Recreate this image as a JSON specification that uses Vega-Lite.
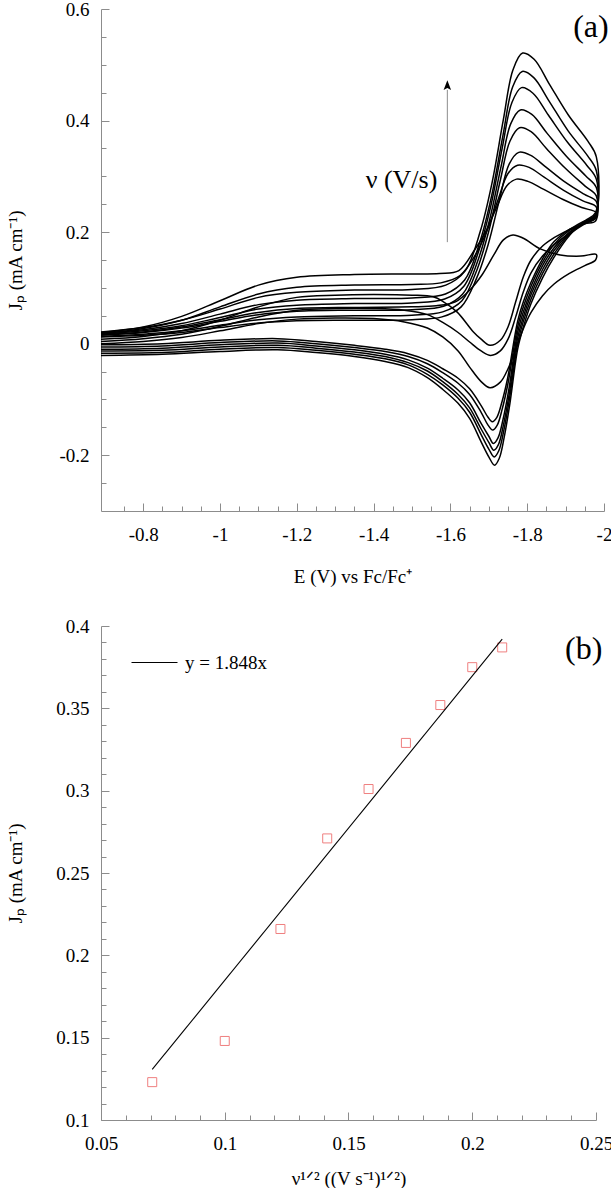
{
"$schema": "https://vega.github.io/schema/vega-lite/v6.json",
"padding": {"left": 6, "top": 0, "right": 5, "bottom": 0},
"spacing": 31,
"config": {
 "view": {"stroke": null},
 "font": "Liberation Serif",
 "axis": {"domainColor": "#8c8c8c", "tickColor": "#8c8c8c", "labelFont": "Times New Roman, Liberation Serif, serif", "labelFontSize": 19, "labelColor": "black", "titleFont": "Times New Roman, Liberation Serif, serif", "titleFontSize": 19, "titleFontWeight": "normal", "titleColor": "black", "grid": false, "domainWidth": 1, "tickWidth": 1, "labelFlush": false, "labelOverlap": false}
},
"datasets": {
 "cv": [
{"c":1,"E":-0.69,"J":0.020},{"c":1,"E":-0.80,"J":0.030},{"c":1,"E":-0.90,"J":0.049},{"c":1,"E":-1.00,"J":0.077},{"c":1,"E":-1.10,"J":0.105},{"c":1,"E":-1.20,"J":0.119},{"c":1,"E":-1.35,"J":0.124},{"c":1,"E":-1.50,"J":0.125},{"c":1,"E":-1.572,"J":0.126},{"c":1,"E":-1.622,"J":0.131},{"c":1,"E":-1.662,"J":0.167},{"c":1,"E":-1.692,"J":0.201},{"c":1,"E":-1.722,"J":0.247},{"c":1,"E":-1.747,"J":0.283},{"c":1,"E":-1.772,"J":0.295},{"c":1,"E":-1.802,"J":0.291},{"c":1,"E":-1.842,"J":0.277},{"c":1,"E":-1.892,"J":0.259},{"c":1,"E":-1.942,"J":0.244},{"c":1,"E":-1.98,"J":0.235},
{"c":1,"E":-1.978,"J":0.225},{"c":1,"E":-1.95,"J":0.220},{"c":1,"E":-1.91,"J":0.205},{"c":1,"E":-1.87,"J":0.190},{"c":1,"E":-1.84,"J":0.175},{"c":1,"E":-1.81,"J":0.150},{"c":1,"E":-1.79,"J":0.120},{"c":1,"E":-1.77,"J":0.075},{"c":1,"E":-1.75,"J":0.030},{"c":1,"E":-1.73,"J":0.006},{"c":1,"E":-1.703,"J":-0.003},{"c":1,"E":-1.68,"J":0.008},{"c":1,"E":-1.66,"J":0.021},{"c":1,"E":-1.617,"J":0.057},{"c":1,"E":-1.58,"J":0.076},{"c":1,"E":-1.555,"J":0.084},{"c":1,"E":-1.50,"J":0.087},{"c":1,"E":-1.40,"J":0.088},{"c":1,"E":-1.30,"J":0.087},{"c":1,"E":-1.20,"J":0.083},{"c":1,"E":-1.10,"J":0.066},{"c":1,"E":-1.00,"J":0.042},{"c":1,"E":-0.90,"J":0.023},{"c":1,"E":-0.80,"J":0.013},{"c":1,"E":-0.69,"J":0.008},
{"c":2,"E":-0.69,"J":0.018},{"c":2,"E":-0.80,"J":0.027},{"c":2,"E":-0.90,"J":0.042},{"c":2,"E":-1.00,"J":0.066},{"c":2,"E":-1.10,"J":0.089},{"c":2,"E":-1.20,"J":0.101},{"c":2,"E":-1.35,"J":0.105},{"c":2,"E":-1.50,"J":0.106},{"c":2,"E":-1.575,"J":0.109},{"c":2,"E":-1.625,"J":0.122},{"c":2,"E":-1.665,"J":0.159},{"c":2,"E":-1.695,"J":0.202},{"c":2,"E":-1.725,"J":0.260},{"c":2,"E":-1.75,"J":0.305},{"c":2,"E":-1.775,"J":0.320},{"c":2,"E":-1.805,"J":0.316},{"c":2,"E":-1.845,"J":0.298},{"c":2,"E":-1.895,"J":0.275},{"c":2,"E":-1.945,"J":0.256},{"c":2,"E":-1.98,"J":0.245},
{"c":2,"E":-1.978,"J":0.225},{"c":2,"E":-1.95,"J":0.215},{"c":2,"E":-1.91,"J":0.197},{"c":2,"E":-1.87,"J":0.177},{"c":2,"E":-1.84,"J":0.157},{"c":2,"E":-1.81,"J":0.127},{"c":2,"E":-1.79,"J":0.093},{"c":2,"E":-1.77,"J":0.048},{"c":2,"E":-1.75,"J":0.008},{"c":2,"E":-1.73,"J":-0.013},{"c":2,"E":-1.705,"J":-0.021},{"c":2,"E":-1.68,"J":-0.013},{"c":2,"E":-1.65,"J":0.003},{"c":2,"E":-1.62,"J":0.020},{"c":2,"E":-1.58,"J":0.038},{"c":2,"E":-1.54,"J":0.052},{"c":2,"E":-1.48,"J":0.060},{"c":2,"E":-1.40,"J":0.063},{"c":2,"E":-1.30,"J":0.063},{"c":2,"E":-1.20,"J":0.060},{"c":2,"E":-1.10,"J":0.048},{"c":2,"E":-1.00,"J":0.031},{"c":2,"E":-0.90,"J":0.017},{"c":2,"E":-0.80,"J":0.009},{"c":2,"E":-0.69,"J":0.004},
{"c":3,"E":-0.69,"J":0.016},{"c":3,"E":-0.80,"J":0.021},{"c":3,"E":-0.90,"J":0.030},{"c":3,"E":-1.00,"J":0.043},{"c":3,"E":-1.10,"J":0.056},{"c":3,"E":-1.20,"J":0.063},{"c":3,"E":-1.35,"J":0.065},{"c":3,"E":-1.50,"J":0.066},{"c":3,"E":-1.563,"J":0.068},{"c":3,"E":-1.613,"J":0.075},{"c":3,"E":-1.653,"J":0.098},{"c":3,"E":-1.683,"J":0.124},{"c":3,"E":-1.713,"J":0.159},{"c":3,"E":-1.738,"J":0.186},{"c":3,"E":-1.763,"J":0.195},{"c":3,"E":-1.79,"J":0.189},{"c":3,"E":-1.834,"J":0.170},{"c":3,"E":-1.886,"J":0.159},{"c":3,"E":-1.94,"J":0.157},{"c":3,"E":-1.98,"J":0.160},
{"c":3,"E":-1.978,"J":0.150},{"c":3,"E":-1.95,"J":0.140},{"c":3,"E":-1.91,"J":0.126},{"c":3,"E":-1.87,"J":0.107},{"c":3,"E":-1.84,"J":0.086},{"c":3,"E":-1.81,"J":0.056},{"c":3,"E":-1.79,"J":0.027},{"c":3,"E":-1.77,"J":-0.010},{"c":3,"E":-1.75,"J":-0.045},{"c":3,"E":-1.73,"J":-0.069},{"c":3,"E":-1.703,"J":-0.079},{"c":3,"E":-1.68,"J":-0.068},{"c":3,"E":-1.65,"J":-0.042},{"c":3,"E":-1.62,"J":-0.013},{"c":3,"E":-1.58,"J":0.012},{"c":3,"E":-1.54,"J":0.028},{"c":3,"E":-1.48,"J":0.039},{"c":3,"E":-1.40,"J":0.045},{"c":3,"E":-1.30,"J":0.046},{"c":3,"E":-1.20,"J":0.044},{"c":3,"E":-1.10,"J":0.036},{"c":3,"E":-1.00,"J":0.023},{"c":3,"E":-0.90,"J":0.011},{"c":3,"E":-0.80,"J":0.004},{"c":3,"E":-0.69,"J":0.000},
{"c":4,"E":-0.69,"J":0.012},{"c":4,"E":-0.80,"J":0.015},{"c":4,"E":-0.90,"J":0.020},{"c":4,"E":-1.00,"J":0.029},{"c":4,"E":-1.10,"J":0.037},{"c":4,"E":-1.20,"J":0.041},{"c":4,"E":-1.35,"J":0.042},{"c":4,"E":-1.50,"J":0.043},{"c":4,"E":-1.578,"J":0.048},{"c":4,"E":-1.628,"J":0.066},{"c":4,"E":-1.668,"J":0.117},{"c":4,"E":-1.698,"J":0.177},{"c":4,"E":-1.728,"J":0.259},{"c":4,"E":-1.753,"J":0.322},{"c":4,"E":-1.778,"J":0.343},{"c":4,"E":-1.808,"J":0.338},{"c":4,"E":-1.848,"J":0.317},{"c":4,"E":-1.898,"J":0.290},{"c":4,"E":-1.948,"J":0.268},{"c":4,"E":-1.98,"J":0.255},
{"c":4,"E":-1.978,"J":0.220},{"c":4,"E":-1.95,"J":0.215},{"c":4,"E":-1.91,"J":0.205},{"c":4,"E":-1.87,"J":0.183},{"c":4,"E":-1.84,"J":0.152},{"c":4,"E":-1.81,"J":0.110},{"c":4,"E":-1.79,"J":0.075},{"c":4,"E":-1.775,"J":0.040},{"c":4,"E":-1.749,"J":-0.062},{"c":4,"E":-1.734,"J":-0.105},{"c":4,"E":-1.721,"J":-0.132},{"c":4,"E":-1.709,"J":-0.140},{"c":4,"E":-1.698,"J":-0.132},{"c":4,"E":-1.68,"J":-0.111},{"c":4,"E":-1.65,"J":-0.081},{"c":4,"E":-1.62,"J":-0.062},{"c":4,"E":-1.58,"J":-0.045},{"c":4,"E":-1.54,"J":-0.030},{"c":4,"E":-1.49,"J":-0.018},{"c":4,"E":-1.43,"J":-0.010},{"c":4,"E":-1.35,"J":-0.003},{"c":4,"E":-1.25,"J":0.004},{"c":4,"E":-1.15,"J":0.009},{"c":4,"E":-1.00,"J":0.006},{"c":4,"E":-0.85,"J":0.000},{"c":4,"E":-0.69,"J":-0.002},
{"c":5,"E":-0.69,"J":0.013},{"c":5,"E":-0.80,"J":0.017},{"c":5,"E":-0.90,"J":0.023},{"c":5,"E":-1.00,"J":0.033},{"c":5,"E":-1.10,"J":0.043},{"c":5,"E":-1.20,"J":0.048},{"c":5,"E":-1.35,"J":0.050},{"c":5,"E":-1.50,"J":0.051},{"c":5,"E":-1.58,"J":0.057},{"c":5,"E":-1.63,"J":0.077},{"c":5,"E":-1.67,"J":0.134},{"c":5,"E":-1.70,"J":0.202},{"c":5,"E":-1.73,"J":0.293},{"c":5,"E":-1.755,"J":0.363},{"c":5,"E":-1.78,"J":0.387},{"c":5,"E":-1.81,"J":0.380},{"c":5,"E":-1.85,"J":0.350},{"c":5,"E":-1.90,"J":0.314},{"c":5,"E":-1.95,"J":0.283},{"c":5,"E":-1.98,"J":0.265},
{"c":5,"E":-1.978,"J":0.225},{"c":5,"E":-1.95,"J":0.216},{"c":5,"E":-1.91,"J":0.203},{"c":5,"E":-1.87,"J":0.178},{"c":5,"E":-1.84,"J":0.146},{"c":5,"E":-1.81,"J":0.103},{"c":5,"E":-1.79,"J":0.066},{"c":5,"E":-1.775,"J":0.030},{"c":5,"E":-1.75,"J":-0.071},{"c":5,"E":-1.735,"J":-0.117},{"c":5,"E":-1.722,"J":-0.146},{"c":5,"E":-1.71,"J":-0.155},{"c":5,"E":-1.698,"J":-0.146},{"c":5,"E":-1.68,"J":-0.123},{"c":5,"E":-1.65,"J":-0.091},{"c":5,"E":-1.62,"J":-0.071},{"c":5,"E":-1.58,"J":-0.052},{"c":5,"E":-1.54,"J":-0.036},{"c":5,"E":-1.49,"J":-0.023},{"c":5,"E":-1.43,"J":-0.014},{"c":5,"E":-1.35,"J":-0.007},{"c":5,"E":-1.25,"J":0.000},{"c":5,"E":-1.15,"J":0.005},{"c":5,"E":-1.00,"J":0.002},{"c":5,"E":-0.85,"J":-0.004},{"c":5,"E":-0.69,"J":-0.006},
{"c":6,"E":-0.69,"J":0.015},{"c":6,"E":-0.80,"J":0.020},{"c":6,"E":-0.90,"J":0.028},{"c":6,"E":-1.00,"J":0.040},{"c":6,"E":-1.10,"J":0.052},{"c":6,"E":-1.20,"J":0.058},{"c":6,"E":-1.35,"J":0.060},{"c":6,"E":-1.50,"J":0.061},{"c":6,"E":-1.582,"J":0.067},{"c":6,"E":-1.632,"J":0.089},{"c":6,"E":-1.672,"J":0.150},{"c":6,"E":-1.702,"J":0.222},{"c":6,"E":-1.732,"J":0.318},{"c":6,"E":-1.757,"J":0.394},{"c":6,"E":-1.782,"J":0.419},{"c":6,"E":-1.812,"J":0.411},{"c":6,"E":-1.852,"J":0.377},{"c":6,"E":-1.902,"J":0.336},{"c":6,"E":-1.952,"J":0.301},{"c":6,"E":-1.98,"J":0.280},
{"c":6,"E":-1.978,"J":0.228},{"c":6,"E":-1.95,"J":0.217},{"c":6,"E":-1.91,"J":0.200},{"c":6,"E":-1.87,"J":0.172},{"c":6,"E":-1.84,"J":0.140},{"c":6,"E":-1.81,"J":0.095},{"c":6,"E":-1.79,"J":0.057},{"c":6,"E":-1.775,"J":0.020},{"c":6,"E":-1.752,"J":-0.083},{"c":6,"E":-1.737,"J":-0.136},{"c":6,"E":-1.724,"J":-0.169},{"c":6,"E":-1.712,"J":-0.179},{"c":6,"E":-1.70,"J":-0.166},{"c":6,"E":-1.68,"J":-0.143},{"c":6,"E":-1.65,"J":-0.106},{"c":6,"E":-1.62,"J":-0.083},{"c":6,"E":-1.58,"J":-0.062},{"c":6,"E":-1.54,"J":-0.044},{"c":6,"E":-1.49,"J":-0.029},{"c":6,"E":-1.43,"J":-0.019},{"c":6,"E":-1.35,"J":-0.011},{"c":6,"E":-1.25,"J":-0.004},{"c":6,"E":-1.15,"J":0.001},{"c":6,"E":-1.00,"J":-0.002},{"c":6,"E":-0.85,"J":-0.008},{"c":6,"E":-0.69,"J":-0.010},
{"c":7,"E":-0.69,"J":0.017},{"c":7,"E":-0.80,"J":0.023},{"c":7,"E":-0.90,"J":0.032},{"c":7,"E":-1.00,"J":0.047},{"c":7,"E":-1.10,"J":0.062},{"c":7,"E":-1.20,"J":0.069},{"c":7,"E":-1.35,"J":0.072},{"c":7,"E":-1.50,"J":0.073},{"c":7,"E":-1.585,"J":0.080},{"c":7,"E":-1.635,"J":0.103},{"c":7,"E":-1.675,"J":0.169},{"c":7,"E":-1.705,"J":0.246},{"c":7,"E":-1.735,"J":0.351},{"c":7,"E":-1.76,"J":0.432},{"c":7,"E":-1.785,"J":0.459},{"c":7,"E":-1.815,"J":0.449},{"c":7,"E":-1.855,"J":0.410},{"c":7,"E":-1.905,"J":0.361},{"c":7,"E":-1.955,"J":0.320},{"c":7,"E":-1.98,"J":0.295},
{"c":7,"E":-1.978,"J":0.230},{"c":7,"E":-1.95,"J":0.218},{"c":7,"E":-1.91,"J":0.198},{"c":7,"E":-1.87,"J":0.167},{"c":7,"E":-1.84,"J":0.133},{"c":7,"E":-1.81,"J":0.088},{"c":7,"E":-1.79,"J":0.048},{"c":7,"E":-1.775,"J":0.010},{"c":7,"E":-1.753,"J":-0.091},{"c":7,"E":-1.738,"J":-0.146},{"c":7,"E":-1.725,"J":-0.181},{"c":7,"E":-1.713,"J":-0.191},{"c":7,"E":-1.70,"J":-0.177},{"c":7,"E":-1.68,"J":-0.153},{"c":7,"E":-1.65,"J":-0.115},{"c":7,"E":-1.62,"J":-0.091},{"c":7,"E":-1.58,"J":-0.068},{"c":7,"E":-1.54,"J":-0.049},{"c":7,"E":-1.49,"J":-0.034},{"c":7,"E":-1.43,"J":-0.023},{"c":7,"E":-1.35,"J":-0.015},{"c":7,"E":-1.25,"J":-0.008},{"c":7,"E":-1.15,"J":-0.003},{"c":7,"E":-1.00,"J":-0.006},{"c":7,"E":-0.85,"J":-0.012},{"c":7,"E":-0.69,"J":-0.013},
{"c":8,"E":-0.69,"J":0.019},{"c":8,"E":-0.80,"J":0.025},{"c":8,"E":-0.90,"J":0.036},{"c":8,"E":-1.00,"J":0.053},{"c":8,"E":-1.10,"J":0.070},{"c":8,"E":-1.20,"J":0.078},{"c":8,"E":-1.35,"J":0.081},{"c":8,"E":-1.50,"J":0.082},{"c":8,"E":-1.587,"J":0.089},{"c":8,"E":-1.637,"J":0.114},{"c":8,"E":-1.677,"J":0.183},{"c":8,"E":-1.707,"J":0.264},{"c":8,"E":-1.737,"J":0.374},{"c":8,"E":-1.762,"J":0.460},{"c":8,"E":-1.787,"J":0.488},{"c":8,"E":-1.817,"J":0.477},{"c":8,"E":-1.857,"J":0.435},{"c":8,"E":-1.907,"J":0.381},{"c":8,"E":-1.957,"J":0.337},{"c":8,"E":-1.98,"J":0.310},
{"c":8,"E":-1.978,"J":0.232},{"c":8,"E":-1.95,"J":0.219},{"c":8,"E":-1.91,"J":0.196},{"c":8,"E":-1.87,"J":0.161},{"c":8,"E":-1.84,"J":0.126},{"c":8,"E":-1.81,"J":0.080},{"c":8,"E":-1.79,"J":0.040},{"c":8,"E":-1.775,"J":0.000},{"c":8,"E":-1.754,"J":-0.098},{"c":8,"E":-1.739,"J":-0.156},{"c":8,"E":-1.726,"J":-0.192},{"c":8,"E":-1.714,"J":-0.203},{"c":8,"E":-1.70,"J":-0.189},{"c":8,"E":-1.68,"J":-0.163},{"c":8,"E":-1.65,"J":-0.123},{"c":8,"E":-1.62,"J":-0.098},{"c":8,"E":-1.58,"J":-0.074},{"c":8,"E":-1.54,"J":-0.055},{"c":8,"E":-1.49,"J":-0.038},{"c":8,"E":-1.43,"J":-0.027},{"c":8,"E":-1.35,"J":-0.019},{"c":8,"E":-1.25,"J":-0.012},{"c":8,"E":-1.15,"J":-0.007},{"c":8,"E":-1.00,"J":-0.010},{"c":8,"E":-0.85,"J":-0.016},{"c":8,"E":-0.69,"J":-0.017},
{"c":9,"E":-0.69,"J":0.021},{"c":9,"E":-0.80,"J":0.029},{"c":9,"E":-0.90,"J":0.042},{"c":9,"E":-1.00,"J":0.062},{"c":9,"E":-1.10,"J":0.083},{"c":9,"E":-1.20,"J":0.092},{"c":9,"E":-1.35,"J":0.096},{"c":9,"E":-1.50,"J":0.097},{"c":9,"E":-1.588,"J":0.105},{"c":9,"E":-1.638,"J":0.130},{"c":9,"E":-1.678,"J":0.202},{"c":9,"E":-1.708,"J":0.287},{"c":9,"E":-1.738,"J":0.402},{"c":9,"E":-1.763,"J":0.491},{"c":9,"E":-1.788,"J":0.521},{"c":9,"E":-1.818,"J":0.510},{"c":9,"E":-1.858,"J":0.465},{"c":9,"E":-1.908,"J":0.409},{"c":9,"E":-1.958,"J":0.363},{"c":9,"E":-1.98,"J":0.335},
{"c":9,"E":-1.978,"J":0.235},{"c":9,"E":-1.95,"J":0.220},{"c":9,"E":-1.91,"J":0.194},{"c":9,"E":-1.87,"J":0.155},{"c":9,"E":-1.84,"J":0.118},{"c":9,"E":-1.81,"J":0.072},{"c":9,"E":-1.79,"J":0.030},{"c":9,"E":-1.775,"J":-0.010},{"c":9,"E":-1.755,"J":-0.107},{"c":9,"E":-1.74,"J":-0.168},{"c":9,"E":-1.727,"J":-0.206},{"c":9,"E":-1.715,"J":-0.218},{"c":9,"E":-1.70,"J":-0.203},{"c":9,"E":-1.68,"J":-0.176},{"c":9,"E":-1.65,"J":-0.134},{"c":9,"E":-1.62,"J":-0.107},{"c":9,"E":-1.58,"J":-0.082},{"c":9,"E":-1.54,"J":-0.061},{"c":9,"E":-1.49,"J":-0.043},{"c":9,"E":-1.43,"J":-0.032},{"c":9,"E":-1.35,"J":-0.023},{"c":9,"E":-1.25,"J":-0.016},{"c":9,"E":-1.15,"J":-0.011},{"c":9,"E":-1.00,"J":-0.014},{"c":9,"E":-0.85,"J":-0.019},{"c":9,"E":-0.69,"J":-0.021}
 ],
 "jp": [
  {"v":0.0707,"Jp":0.123},{"v":0.1,"Jp":0.148},{"v":0.1225,"Jp":0.216},{"v":0.1414,"Jp":0.271},{"v":0.1581,"Jp":0.301},{"v":0.1732,"Jp":0.329},{"v":0.1871,"Jp":0.352},{"v":0.2,"Jp":0.375},{"v":0.2121,"Jp":0.387}
 ],
 "fit": [
  {"v":0.0707,"Jp":0.1307},{"v":0.2121,"Jp":0.392}
 ]
},
"vconcat": [
 {
  "width": 503, "height": 502,
  "layer": [
   {
    "data": {"name": "cv"},
    "mark": {"type": "line", "interpolate": "catmull-rom", "color": "black", "strokeWidth": 1.5},
    "encoding": {
     "x": {"field": "E", "type": "quantitative", "scale": {"domain": [-2, -0.69], "reverse": true, "nice": false, "zero": false},
      "axis": {"orient": "bottom", "values": [-0.8, -1, -1.2, -1.4, -1.6, -1.8, -2], "labelExpr": "toString(datum.value)", "tickSize": -8, "labelPadding": 22, "title": "E (V) vs Fc/Fc⁺", "titleY": 56}},
     "y": {"field": "J", "type": "quantitative", "scale": {"domain": [-0.3, 0.6], "nice": false, "zero": false},
      "axis": {"orient": "left", "values": [-0.2, 0, 0.2, 0.4, 0.6], "labelExpr": "toString(datum.value)", "tickSize": -8, "labelPadding": 20, "title": "Jₚ (mA cm⁻¹)", "titleX": -76}},
     "detail": {"field": "c", "type": "nominal"},
     "order": {"value": null}
    }
   },
   {
    "data": {"values": [{}]},
    "mark": {"type": "text", "text": "(a)", "fontSize": 32, "font": "Liberation Serif", "align": "center", "baseline": "middle", "color": "black"},
    "encoding": {
     "x": {"datum": -1.966, "type": "quantitative", "scale": {"domain": [-2, -0.69], "reverse": true, "nice": false, "zero": false},
      "axis": {"orient": "bottom", "values": [-0.75, -0.85, -0.9, -0.95, -1.05, -1.1, -1.15, -1.25, -1.3, -1.35, -1.45, -1.5, -1.55, -1.65, -1.7, -1.75, -1.85, -1.9, -1.95], "labels": false, "domain": false, "tickSize": -5, "title": null}},
     "y": {"datum": 0.568, "type": "quantitative", "scale": {"domain": [-0.3, 0.6], "nice": false, "zero": false},
      "axis": {"orient": "left", "values": [-0.25, -0.15, -0.1, -0.05, 0.05, 0.1, 0.15, 0.25, 0.3, 0.35, 0.45, 0.5, 0.55], "labels": false, "domain": false, "tickSize": -5, "title": null}}
    }
   },
   {
    "data": {"values": [{}]},
    "mark": {"type": "text", "text": "ν (V/s)", "fontSize": 26, "font": "Liberation Serif", "align": "right", "baseline": "middle", "color": "black"},
    "encoding": {
     "x": {"datum": -1.566, "type": "quantitative", "axis": null},
     "y": {"datum": 0.293, "type": "quantitative", "axis": null}
    }
   },
   {
    "data": {"values": [{}]},
    "mark": {"type": "rule", "color": "#8c8c8c", "strokeWidth": 1},
    "encoding": {
     "x": {"datum": -1.592, "type": "quantitative", "axis": null},
     "y": {"datum": 0.182, "type": "quantitative", "axis": null},
     "y2": {"datum": 0.455}
    }
   },
   {
    "data": {"values": [{}]},
    "mark": {"type": "point", "shape": "M0,-1L0.5,0.3L0,0.05L-0.5,0.3Z", "filled": true, "color": "black", "size": 225, "opacity": 1},
    "encoding": {
     "x": {"datum": -1.592, "type": "quantitative", "axis": null},
     "y": {"datum": 0.459, "type": "quantitative", "axis": null}
    }
   }
  ],
  "resolve": {"axis": {"x": "independent", "y": "independent"}}
 },
 {
  "width": 495, "height": 494,
  "layer": [
   {
    "data": {"name": "jp"},
    "mark": {"type": "point", "shape": "square", "size": 81, "filled": false, "color": "#ef7f7f", "strokeWidth": 1, "opacity": 1},
    "encoding": {
     "x": {"field": "v", "type": "quantitative", "scale": {"domain": [0.05, 0.25], "nice": false, "zero": false},
      "axis": {"orient": "bottom", "values": [0.05, 0.1, 0.15, 0.2, 0.25], "labelExpr": "toString(datum.value)", "tickSize": -8, "labelPadding": 22, "title": "ν¹ᐟ² ((V s⁻¹)¹ᐟ²)", "titleY": 49}},
     "y": {"field": "Jp", "type": "quantitative", "scale": {"domain": [0.1, 0.4], "nice": false, "zero": false},
      "axis": {"orient": "left", "values": [0.1, 0.15, 0.2, 0.25, 0.3, 0.35, 0.4], "labelExpr": "toString(datum.value)", "tickSize": -8, "labelPadding": 20, "title": "Jₚ (mA cm⁻¹)", "titleX": -76}}
    }
   },
   {
    "data": {"name": "fit"},
    "mark": {"type": "line", "strokeWidth": 1.1},
    "encoding": {
     "x": {"field": "v", "type": "quantitative", "axis": null},
     "y": {"field": "Jp", "type": "quantitative", "axis": null},
     "color": {"datum": "y = 1.848x", "type": "nominal", "scale": {"range": ["black"]},
      "legend": {"orient": "none", "legendX": 30, "legendY": 630, "title": null, "symbolType": "stroke", "symbolSize": 2116, "symbolStrokeWidth": 1, "labelFont": "Liberation Serif", "labelFontSize": 19, "labelColor": "black", "labelOffset": 7, "padding": 0}}
    }
   },
   {
    "data": {"values": [{}]},
    "mark": {"type": "text", "text": "(b)", "fontSize": 32, "font": "Liberation Serif", "align": "center", "baseline": "middle", "color": "black"},
    "encoding": {
     "x": {"datum": 0.245, "type": "quantitative", "scale": {"domain": [0.05, 0.25], "nice": false, "zero": false},
      "axis": {"orient": "bottom", "values": [0.06, 0.07, 0.08, 0.09, 0.11, 0.12, 0.13, 0.14, 0.16, 0.17, 0.18, 0.19, 0.21, 0.22, 0.23, 0.24], "labels": false, "domain": false, "tickSize": -5, "title": null}},
     "y": {"datum": 0.386, "type": "quantitative", "scale": {"domain": [0.1, 0.4], "nice": false, "zero": false},
      "axis": {"orient": "left", "values": [0.11, 0.12, 0.13, 0.14, 0.16, 0.17, 0.18, 0.19, 0.21, 0.22, 0.23, 0.24, 0.26, 0.27, 0.28, 0.29, 0.31, 0.32, 0.33, 0.34, 0.36, 0.37, 0.38, 0.39], "labels": false, "domain": false, "tickSize": -5, "title": null}}
    }
   }
  ],
  "resolve": {"axis": {"x": "independent", "y": "independent"}}
 }
]
}
